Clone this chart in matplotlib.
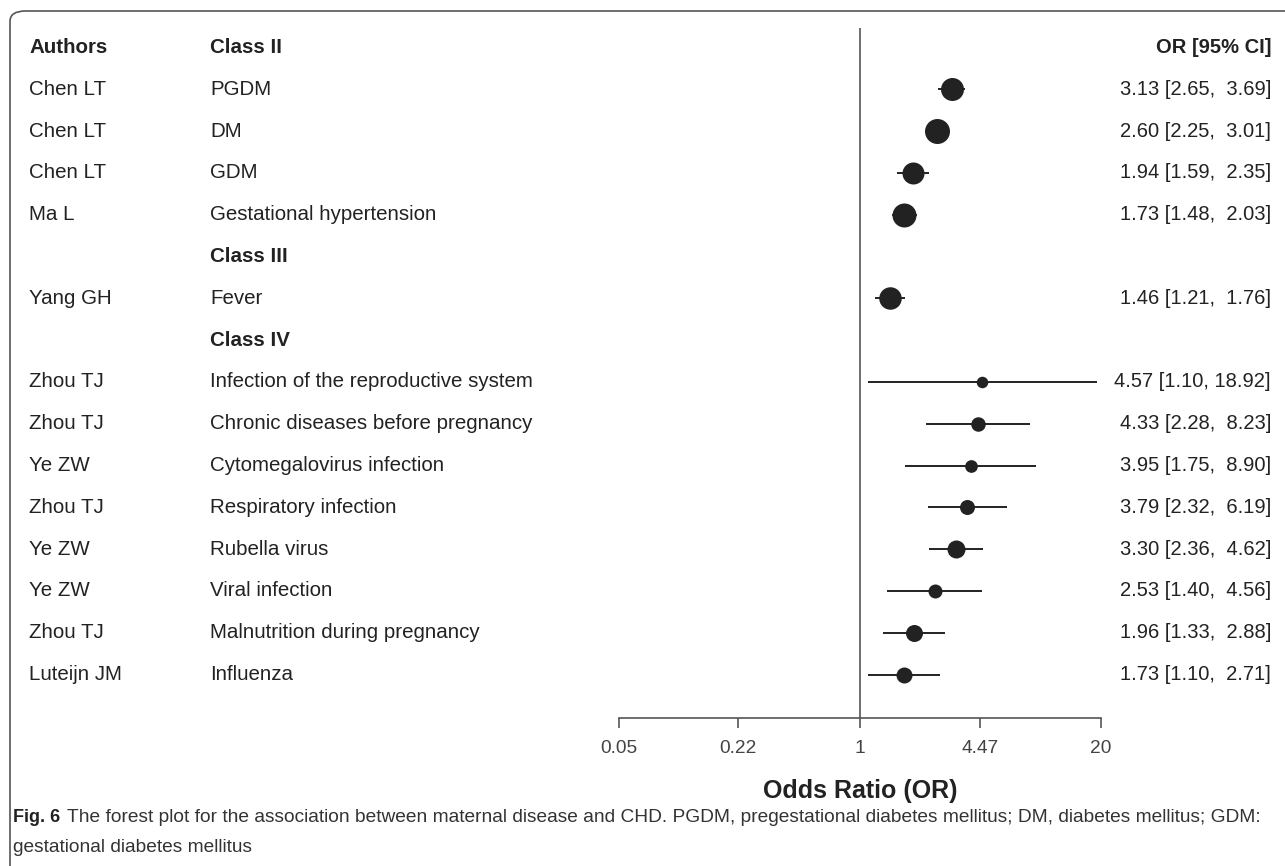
import numpy as np
import matplotlib
matplotlib.use("Agg")
import matplotlib.pyplot as plt
from matplotlib.patches import FancyBboxPatch
from matplotlib.transforms import blended_transform_factory

plt.rcParams['font.family'] = ['Liberation Sans', 'DejaVu Sans']

# rows of the forest plot (None = heading row)
authors = ["Chen LT", "Chen LT", "Chen LT", "Ma L", None, "Yang GH", None,
           "Zhou TJ", "Zhou TJ", "Ye ZW", "Zhou TJ", "Ye ZW", "Ye ZW",
           "Zhou TJ", "Luteijn JM"]
factors = ["PGDM", "DM", "GDM", "Gestational hypertension", "Class III",
           "Fever", "Class IV", "Infection of the reproductive system",
           "Chronic diseases before pregnancy", "Cytomegalovirus infection",
           "Respiratory infection", "Rubella virus", "Viral infection",
           "Malnutrition during pregnancy", "Influenza"]
odds = [3.13, 2.60, 1.94, 1.73, None, 1.46, None,
        4.57, 4.33, 3.95, 3.79, 3.30, 2.53, 1.96, 1.73]
lower = [2.65, 2.25, 1.59, 1.48, None, 1.21, None,
         1.10, 2.28, 1.75, 2.32, 2.36, 1.40, 1.33, 1.10]
upper = [3.69, 3.01, 2.35, 2.03, None, 1.76, None,
         18.92, 8.23, 8.90, 6.19, 4.62, 4.56, 2.88, 2.71]
# relative study weights (drawn as point size)
weights = [23, 25, 22, 24, None, 22.5, None,
           11.5, 14.5, 12.7, 15, 18, 14, 17, 16]

ticks = [0.05, 0.22, 1, 4.47, 20]
tick_labels = ["0.05", "0.22", "1", "4.47", "20"]

W, H = 1285, 866
fig = plt.figure(figsize=(W / 100, H / 100), dpi=100)

# rounded frame around the figure
frame = FancyBboxPatch((10 / W, -0.1), 1.2, 0.1 + (H - 11) / H,
                       boxstyle="round,pad=0,rounding_size=0.012",
                       transform=fig.transFigure, fill=False,
                       edgecolor="#555555", lw=1.2)
fig.patches.append(frame)

x0, x1 = 619, 1101
y_top, y_bot = 28, 718
first_row = 47.5
row_h = 41.8
ax = fig.add_axes([x0 / W, 1 - y_bot / H, (x1 - x0) / W, (y_bot - y_top) / H])
ax.set_xscale("log")
ax.set_xlim(0.05, 20)
ax.set_ylim((y_bot - first_row) / row_h, (y_top - first_row) / row_h)
for s in ["top", "left", "right"]:
    ax.spines[s].set_visible(False)
ax.spines["bottom"].set_color("#555555")
ax.spines["bottom"].set_linewidth(1.2)
ax.set_yticks([])
ax.set_xticks(ticks)
ax.set_xticklabels(tick_labels)
ax.minorticks_off()
ax.tick_params(axis="x", direction="out", length=7, width=1.2, color="#555555",
               labelsize=13.8, labelcolor="#444444", pad=9)
ax.set_xlabel("Odds Ratio (OR)", fontsize=18, fontweight="bold", color="#222222", labelpad=16)
ax.axvline(1, color="#555555", lw=1.2)
ax.patch.set_visible(False)

tr = blended_transform_factory(fig.transFigure, ax.transData)
fs = 14.8
fs_r = 14.5
txt = "#222222"

ax.text(29 / W, 0, "Authors", transform=tr, fontsize=fs, fontweight="bold",
        color=txt, va="center", ha="left")
ax.text(210 / W, 0, "Class II", transform=tr, fontsize=fs, fontweight="bold",
        color=txt, va="center", ha="left")
ax.text(1271 / W, 0, "OR [95% CI]", transform=tr, fontsize=fs_r, fontweight="bold",
        color=txt, va="center", ha="right")

for i, (a, f, o, lo, hi, w) in enumerate(zip(authors, factors, odds, lower, upper, weights)):
    y = i + 1
    if a is None:
        ax.text(210 / W, y, f, transform=tr, fontsize=fs, fontweight="bold",
                color=txt, va="center", ha="left")
        continue
    ax.text(29 / W, y, a, transform=tr, fontsize=fs, color=txt, va="center", ha="left")
    ax.text(210 / W, y, f, transform=tr, fontsize=fs, color=txt, va="center", ha="left")
    label = f"{o:.2f} [{lo:.2f}, {hi:.2f}]" if hi >= 10 else f"{o:.2f} [{lo:.2f},  {hi:.2f}]"
    ax.text(1271 / W, y, label, transform=tr, fontsize=fs_r, color=txt, va="center", ha="right")
    ax.plot([lo, hi], [y, y], color="#222222", lw=1.4, solid_capstyle="butt", zorder=2)
    ax.scatter([o], [y], s=(w * 0.72) ** 2, color="#222222", zorder=3, linewidths=0)

cap_fs = 13.8
fig.text(13 / W, 1 - 818 / H, "Fig. 6", fontsize=13, fontweight="bold",
         va="center", ha="left", color="#222222")
fig.text(67 / W, 1 - 818 / H,
         "The forest plot for the association between maternal disease and CHD. PGDM, pregestational diabetes mellitus; DM, diabetes mellitus; GDM:",
         fontsize=cap_fs, va="center", ha="left", color="#333333")
fig.text(13 / W, 1 - 848 / H, "gestational diabetes mellitus", fontsize=cap_fs,
         va="center", ha="left", color="#333333")

fig.savefig("out.png", dpi=100)
